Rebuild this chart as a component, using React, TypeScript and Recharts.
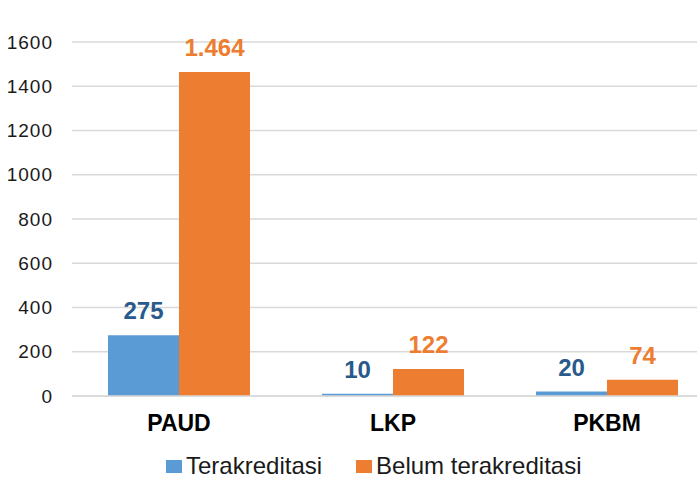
import React from "react";
import {
  BarChart,
  Bar,
  XAxis,
  YAxis,
  CartesianGrid,
  Legend,
  LabelList,
} from "recharts";

const categories = ["PAUD", "LKP", "PKBM"];
const terakreditasi = [275, 10, 20];
const belumTerakreditasi = [1464, 122, 74];
const yTicks = [0, 200, 400, 600, 800, 1000, 1200, 1400, 1600];

const BLUE = "#5B9BD5";
const ORANGE = "#ED7D31";
const BLUE_LABEL = "#285A8C";
const FONT = "'Liberation Sans', Arial, sans-serif";

const data = categories.map((name, i) => ({
  name,
  terakreditasi: terakreditasi[i],
  belum: belumTerakreditasi[i],
}));

// thousands separator as a dot, e.g. 1464 -> "1.464"
const formatValue = (v: number | string) =>
  String(v).replace(/\B(?=(\d{3})+(?!\d))/g, ".");

function LegendContent() {
  const items = [
    { label: "Terakreditasi", color: BLUE },
    { label: "Belum terakreditasi", color: ORANGE },
  ];
  return (
    <div
      style={{
        display: "flex",
        alignItems: "center",
        fontFamily: FONT,
        fontSize: 24,
        color: "#1a1a1a",
        height: 30,
      }}
    >
      {items.map((it, i) => (
        <span
          key={it.label}
          style={{ display: "flex", alignItems: "center", marginRight: i === 0 ? 34 : 0 }}
        >
          <span
            style={{
              display: "inline-block",
              width: 16,
              height: 13,
              background: it.color,
              marginRight: 4,
            }}
          />
          {it.label}
        </span>
      ))}
    </div>
  );
}

export default function App() {
  return (
    <div
      style={{
        position: "absolute",
        left: 0,
        top: 0,
        width: 697,
        height: 478,
        overflow: "hidden",
        background: "#fff",
      }}
    >
      <BarChart
        width={730}
        height={478}
        data={data}
        margin={{ top: 42, right: 16, left: 0, bottom: 0 }}
        barCategoryGap={36}
        barGap={0}
      >
        <CartesianGrid vertical={false} stroke="#D9D9D9" strokeWidth={1.5} />
        <XAxis
          dataKey="name"
          height={52}
          tickLine={false}
          tickSize={0}
          tickMargin={19}
          axisLine={{ stroke: "#D9D9D9", strokeWidth: 1.5 }}
          tick={{ fontSize: 23, fontWeight: 700, fill: "#000", fontFamily: FONT }}
        />
        <YAxis
          width={72}
          domain={[0, 1600]}
          ticks={yTicks}
          axisLine={false}
          tickLine={false}
          tickSize={0}
          tickMargin={19}
          tick={{ fontSize: 19, fill: "#1a1a1a", fontFamily: FONT, letterSpacing: 1 }}
        />
        <Legend
          verticalAlign="bottom"
          content={<LegendContent />}
          wrapperStyle={{ left: 166, width: 470, bottom: -3 }}
        />
        <Bar dataKey="terakreditasi" fill={BLUE} isAnimationActive={false}>
          <LabelList
            dataKey="terakreditasi"
            position="top"
            offset={16}
            formatter={formatValue}
            style={{ fontSize: 24, fontWeight: 700, fill: BLUE_LABEL, fontFamily: FONT }}
          />
        </Bar>
        <Bar dataKey="belum" fill={ORANGE} isAnimationActive={false}>
          <LabelList
            dataKey="belum"
            position="top"
            offset={16}
            formatter={formatValue}
            style={{ fontSize: 24, fontWeight: 700, fill: ORANGE, fontFamily: FONT }}
          />
        </Bar>
      </BarChart>
    </div>
  );
}
